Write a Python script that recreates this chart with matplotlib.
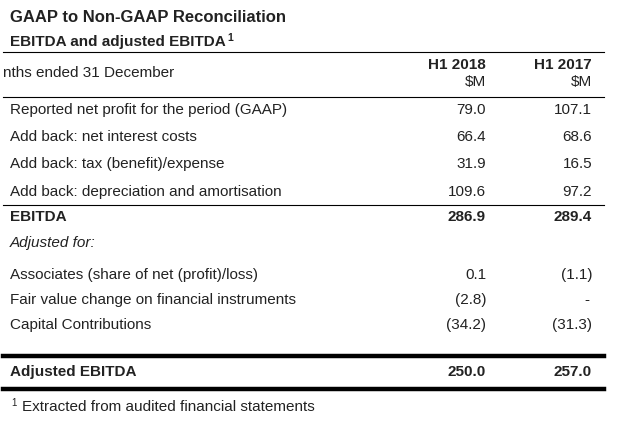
import matplotlib.pyplot as plt
from matplotlib.lines import Line2D

plt.rcParams['font.family'] = ['Liberation Sans', 'DejaVu Sans']

# table content
title = "GAAP to Non-GAAP Reconciliation"
subtitle = "EBITDA and adjusted EBITDA"
period_label = "nths ended 31 December"
col_heads = ["H1 2018", "H1 2017"]
unit = "$M"

rows_top = ["Reported net profit for the period (GAAP)",
            "Add back: net interest costs",
            "Add back: tax (benefit)/expense",
            "Add back: depreciation and amortisation"]
h1_2018_top = [79.0, 66.4, 31.9, 109.6]
h1_2017_top = [107.1, 68.6, 16.5, 97.2]

ebitda = [286.9, 289.4]

rows_adj = ["Associates (share of net (profit)/loss)",
            "Fair value change on financial instruments",
            "Capital Contributions"]
h1_2018_adj = [0.1, -2.8, -34.2]
h1_2017_adj = [-1.1, None, -31.3]

adj_ebitda = [250.0, 257.0]
footnote = "Extracted from audited financial statements"


def fmt(v):
    if v is None:
        return "-"
    if v < 0:
        return "(%.1f)" % abs(v)
    return "%.1f" % v


W, H = 636, 422
fig = plt.figure(figsize=(W / 100, H / 100), dpi=100)
fig.patch.set_facecolor("white")

ink = "#222222"
fs = 11


def txt(x, y, s, **kw):
    kw.setdefault("fontsize", fs)
    kw.setdefault("color", ink)
    kw.setdefault("va", "center")
    return fig.text(x / W, 1 - y / H, s, **kw)


def right_edge(t):
    r = fig.canvas.get_renderer()
    bb = t.get_window_extent(r)
    return bb.x1


def hline(y, lw=0.8, x0=3, x1=604):
    fig.add_artist(Line2D([x0 / W, x1 / W], [1 - y / H, 1 - y / H],
                          color="black", lw=lw, transform=fig.transFigure))


c1, c2 = 486, 592

# header
txt(10, 17, title, fontsize=12, fontweight="bold")
t = txt(10, 42, subtitle, fontsize=11, fontweight="bold")
txt(right_edge(t) + 2, 38, "1", fontsize=7.5, fontweight="bold")
hline(52)
txt(3, 73, period_label)
txt(c1, 65, col_heads[0], ha="right", fontweight="bold")
txt(c2, 65, col_heads[1], ha="right", fontweight="bold")
txt(c1, 82, unit, ha="right")
txt(c2, 82, unit, ha="right")
hline(97)

# first block
ys = [110, 137, 164, 192]
for y, lab, a, b in zip(ys, rows_top, h1_2018_top, h1_2017_top):
    txt(10, y, lab)
    txt(c1, y, fmt(a), ha="right")
    txt(c2, y, fmt(b), ha="right")
hline(205)

txt(10, 217, "EBITDA", fontweight="bold")
txt(c1, 217, fmt(ebitda[0]), ha="right", fontweight="bold")
txt(c2, 217, fmt(ebitda[1]), ha="right", fontweight="bold")
txt(10, 243, "Adjusted for:", style="italic")

ys = [275, 300, 325]
for y, lab, a, b in zip(ys, rows_adj, h1_2018_adj, h1_2017_adj):
    txt(10, y, lab)
    txt(c1, y, fmt(a), ha="right")
    txt(c2 - (3 if b is None else 0), y, fmt(b), ha="right")

hline(356, 3.2)
txt(10, 372, "Adjusted EBITDA", fontweight="bold")
txt(c1, 372, fmt(adj_ebitda[0]), ha="right", fontweight="bold")
txt(c2, 372, fmt(adj_ebitda[1]), ha="right", fontweight="bold")
hline(389, 3.2)

txt(11, 403, "1", fontsize=7)
txt(22, 407, footnote)

fig.savefig("out.png", dpi=100, facecolor="white")
